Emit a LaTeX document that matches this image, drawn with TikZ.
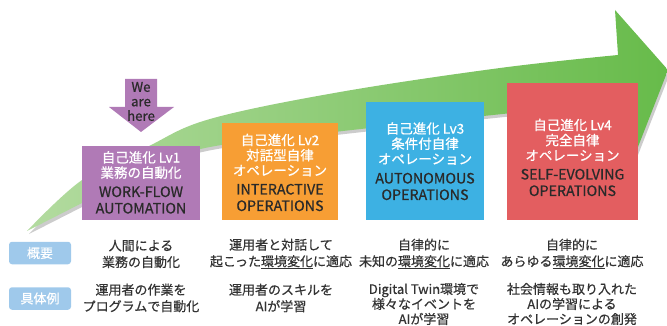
\documentclass[tikz,border=0pt]{standalone}
\usepackage{fontspec}
\setmainfont{Noto Sans CJK JP}[FakeBold=0.6]
\definecolor{lvpurple}{HTML}{B07AB6}
\definecolor{lvorange}{HTML}{F79E34}
\definecolor{lvblue}{HTML}{3DB1E3}
\definecolor{lvred}{HTML}{E35E60}
\definecolor{tagblue}{HTML}{9FC9EB}
\definecolor{greenL}{HTML}{B3DBA0}
\definecolor{greenR}{HTML}{67BB4A}
\definecolor{desc}{HTML}{333333}
\definecolor{entext}{HTML}{2A2A2A}
\begin{document}
\begin{tikzpicture}[x=1pt,y=-1pt,
  lvbox/.style={draw=none,inner sep=0,minimum width=#1},
  jp/.style={font=\fontsize{13.5}{15.2}\selectfont,text=white,align=center,inner sep=0},
  en/.style={font=\fontsize{14.3}{16.5}\selectfont,text=entext,align=center,inner sep=0},
  tag/.style={fill=tagblue,rounded corners=3pt,minimum width=62pt,minimum height=22.5pt,inner sep=0,text=white,font=\fontsize{13}{15}\selectfont},
  dsc/.style={font=\fontsize{13}{16.5}\selectfont,text=desc,align=center,inner sep=0}]
\useasboundingbox (0,0) rectangle (667,326);
% big arrow shadow
\fill[gray!40,shift={(2,3)}]
  plot[smooth,tension=0.6] coordinates {(27,231) (82,180) (147,147) (210,119) (340,92) (500,68) (618,55)}
  -- (615,10) -- (668,70) -- (636,152) -- (620,102)
  -- plot[smooth,tension=0.6] coordinates {(620,102) (493,115) (343,131) (210,147) (150,168) (82,203) (27,231)} -- cycle;
% big arrow
\shade[left color=greenL,right color=greenR]
  plot[smooth,tension=0.6] coordinates {(27,231) (82,180) (147,147) (210,119) (340,92) (500,68) (618,55)}
  -- (615,10) -- (668,70) -- (636,152) -- (620,102)
  -- plot[smooth,tension=0.6] coordinates {(620,102) (493,115) (343,131) (210,147) (150,168) (82,203) (27,231)} -- cycle;
% level boxes
\node[lvbox=118pt,minimum height=74pt,fill=lvpurple] (lv1) at (141,183) {};
\node[lvbox=116pt,minimum height=97pt,fill=lvorange] (lv2) at (280,171.5) {};
\node[lvbox=118pt,minimum height=118pt,fill=lvblue] (lv3) at (425,161) {};
\node[lvbox=131pt,minimum height=137pt,fill=lvred] (lv4) at (572.5,151.5) {};
\node[jp] (lv1jp) at (141,165) {自己進化 Lv1\\業務の自動化};
\node[en] (lv1en) at (141,200) {WORK-FLOW\\AUTOMATION};
\node[jp] (lv2jp) at (280,155) {自己進化 Lv2\\対話型自律\\オペレーション};
\node[en] (lv2en) at (280,197.5) {INTERACTIVE\\OPERATIONS};
\node[jp] (lv3jp) at (425,143.5) {自己進化 Lv3\\条件付自律\\オペレーション};
\node[en] (lv3en) at (425,186.5) {AUTONOMOUS\\OPERATIONS};
\node[jp] (lv4jp) at (572.5,140) {自己進化 Lv4\\完全自律\\オペレーション};
\node[en] (lv4en) at (572.5,182.5) {SELF-EVOLVING\\OPERATIONS};
% we are here arrow
\fill[lvpurple] (125,79) -- (157,79) -- (157,107) -- (174,107) -- (141,132) -- (109,107) -- (125,107) -- cycle;
\node[font=\fontsize{13.3}{14.5}\selectfont,text=entext,align=center,inner sep=0] (here) at (141,101.5) {We\\are\\here};
% row tags
\node[tag] (t1) at (40,253) {概要};
\node[tag] (t2) at (40,298.5) {具体例};
% descriptions row 1
\node[dsc] (d11) at (141,254) {人間による\\業務の自動化};
\node[dsc] (d12) at (281,254) {運用者と対話して\\起こった\underline{環境変化}に適応};
\node[dsc] (d13) at (424,254) {自律的に\\未知の\underline{環境変化}に適応};
\node[dsc] (d14) at (572,254) {自律的に\\あらゆる\underline{環境変化}に適応};
% descriptions row 2
\node[dsc] (d21) at (141,298) {運用者の作業を\\プログラムで自動化};
\node[dsc] (d22) at (281,298) {運用者のスキルを\\AIが学習};
\node[dsc,font=\fontsize{13}{15}\selectfont] (d23) at (424,304) {Digital Twin環境で\\様々なイベントを\\AIが学習};
\node[dsc,font=\fontsize{13}{15}\selectfont] (d24) at (572,304) {社会情報も取り入れた\\AIの学習による\\オペレーションの創発};
\end{tikzpicture}
\end{document}
